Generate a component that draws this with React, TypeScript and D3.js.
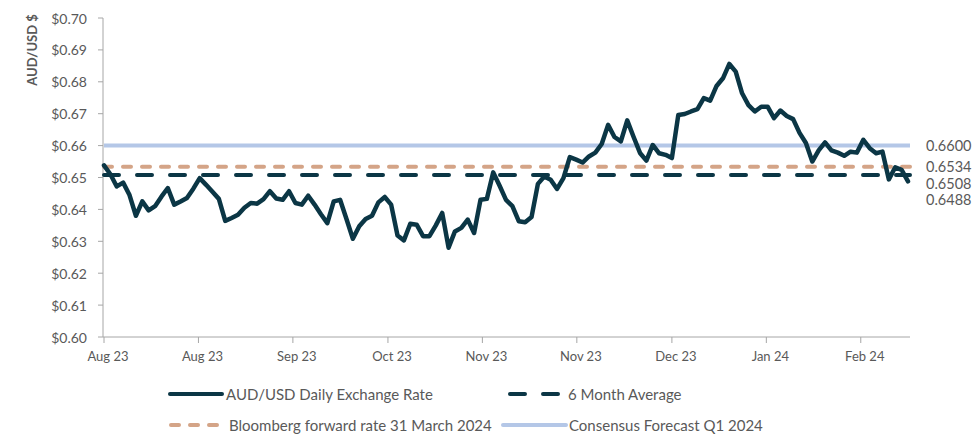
import React from "react";
import * as d3 from "d3";

const rates: number[] = [
  0.6538, 0.651, 0.6472, 0.6484, 0.6445, 0.638, 0.6425, 0.6397, 0.641, 0.644,
  0.6467, 0.6415, 0.6425, 0.6436, 0.6465, 0.6498, 0.6477, 0.6455, 0.6433, 0.6364,
  0.6373, 0.6383, 0.6405, 0.642, 0.6418, 0.6432,
  0.6457, 0.6434, 0.643, 0.6457, 0.642, 0.6415, 0.6443, 0.6415, 0.6385, 0.6357,
  0.6425, 0.643, 0.637, 0.6308, 0.6347, 0.637, 0.638, 0.6422, 0.6439, 0.6415,
  0.6318, 0.6303, 0.6355, 0.6352, 0.6316, 0.6316,
  0.635, 0.6389, 0.628, 0.6331, 0.6342, 0.6368, 0.6326, 0.643, 0.6433, 0.6516,
  0.6474, 0.643, 0.641, 0.6363, 0.636, 0.6376, 0.648, 0.6503, 0.6493, 0.6464,
  0.6498, 0.6564, 0.6556, 0.6547, 0.6566, 0.6578,
  0.6605, 0.6665, 0.6627, 0.6613, 0.6679, 0.6627, 0.6577, 0.6553, 0.6602, 0.6576,
  0.6571, 0.6561, 0.6696, 0.6699, 0.6707, 0.6714, 0.6749, 0.6741, 0.6787, 0.6811,
  0.6856, 0.6832, 0.6764, 0.6727, 0.6707, 0.6722,
  0.6722, 0.6686, 0.671, 0.6693, 0.6683, 0.664, 0.6608, 0.655, 0.6585, 0.661,
  0.6585, 0.6578, 0.6568, 0.6581, 0.6578, 0.6618, 0.6592, 0.6576, 0.6581, 0.6494,
  0.6532, 0.6524, 0.6488,
];

const sixMonthAverage = 0.6508;
const bloombergForward = 0.6534;
const consensusForecast = 0.66;
const latestRate = 0.6488;

const xTickIndex: number[] = [0, 14.8, 29.6, 44.5, 59.3, 74.1, 89, 103.8, 118.6];
const xTickLabels: string[] = [
  "Aug 23", "Aug 23", "Sep 23", "Oct 23", "Nov 23", "Nov 23", "Dec 23", "Jan 24", "Feb 24",
];
const yTicks: number[] = [0.6, 0.61, 0.62, 0.63, 0.64, 0.65, 0.66, 0.67, 0.68, 0.69, 0.7];

const DARK = "#0B3645";
const TAN = "#D4A487";
const BLUE = "#B4C7E7";
const AXIS = "#A6A6A6";
const TEXT = "#595959";
const FONT = "Lato, 'Open Sans', sans-serif";

export default function App() {
  const W = 976;
  const H = 437;
  const left = 104;
  const right = 910;
  const top = 18;
  const bottom = 337;

  const x = d3.scaleLinear().domain([0, rates.length - 1]).range([left, 908]);
  const y = d3.scaleLinear().domain([0.6, 0.7]).range([bottom, top]);

  const line = d3
    .line<number>()
    .x((_, i) => x(i))
    .y((d) => y(d))
    .curve(d3.curveLinear);

  const refLines = [
    { v: consensusForecast, color: BLUE, dash: undefined as string | undefined, cap: "butt" },
    { v: bloombergForward, color: TAN, dash: "8 11", cap: "round" },
    { v: sixMonthAverage, color: DARK, dash: "15 18", cap: "round" },
  ];

  const rightLabels = [consensusForecast, bloombergForward, sixMonthAverage, latestRate];
  const labelYs: number[] = [];
  rightLabels.forEach((v, i) => {
    const yy = y(v);
    labelYs.push(i === 0 ? yy : Math.max(yy, labelYs[i - 1] + 16.5));
  });

  return (
    <svg
      width={W}
      height={H}
      style={{ position: "absolute", left: 0, top: 0, background: "#fff" }}
      fontFamily={FONT}
    >
      <rect x={0} y={0} width={W} height={H} fill="#fff" />
      {/* y axis */}
      <line x1={left - 1} x2={left - 1} y1={top} y2={bottom} stroke={AXIS} strokeWidth={1} />
      {yTicks.map((t) => (
        <g key={t}>
          <line x1={left - 6} x2={left - 1} y1={y(t)} y2={y(t)} stroke={AXIS} />
          <text
            x={87}
            y={y(t)}
            textAnchor="end"
            dominantBaseline="central"
            fontSize={14}
            fill={TEXT}
          >
            {d3.format("$.2f")(t)}
          </text>
        </g>
      ))}
      <text
        transform={`translate(32,${50}) rotate(-90)`}
        textAnchor="middle"
        dominantBaseline="central"
        fontSize={13}
        fontWeight="bold"
        fill={TEXT}
      >
        AUD/USD $
      </text>
      {/* x axis */}
      <line x1={left - 1} x2={right} y1={bottom} y2={bottom} stroke={AXIS} strokeWidth={1} />
      {xTickIndex.map((t, i) => (
        <g key={i}>
          <line x1={x(t)} x2={x(t)} y1={bottom} y2={bottom + 6} stroke={AXIS} />
          <text
            x={x(t) + 4}
            y={bottom + 24}
            textAnchor="middle"
            fontSize={13}
            fill={TEXT}
          >
            {xTickLabels[i]}
          </text>
        </g>
      ))}
      {/* reference lines */}
      {refLines.map((r, i) => (
        <line
          key={i}
          x1={left}
          x2={right}
          y1={y(r.v)}
          y2={y(r.v)}
          stroke={r.color}
          strokeWidth={4}
          strokeDasharray={r.dash}
          strokeLinecap={r.cap as any}
        />
      ))}
      {/* main series */}
      <path
        d={line(rates) || ""}
        fill="none"
        stroke={DARK}
        strokeWidth={4.5}
        strokeLinejoin="round"
        strokeLinecap="round"
      />
      {/* right labels */}
      {rightLabels.map((v, i) => (
        <text
          key={i}
          x={926}
          y={labelYs[i]}
          dominantBaseline="central"
          fontSize={14.5}
          fill={TEXT}
        >
          {v.toFixed(4)}
        </text>
      ))}
      {/* legend */}
      <g fontSize={15} fill={TEXT}>
        <line x1={170} x2={222} y1={394} y2={394} stroke={DARK} strokeWidth={4} strokeLinecap="round" />
        <text x={226} y={394} dominantBaseline="central">AUD/USD Daily Exchange Rate</text>
        <line x1={510} x2={562} y1={394} y2={394} stroke={DARK} strokeWidth={4} strokeDasharray="15 18" strokeLinecap="round" />
        <text x={568} y={394} dominantBaseline="central">6 Month Average</text>
        <line x1={171} x2={222} y1={425} y2={425} stroke={TAN} strokeWidth={4} strokeDasharray="8 11" strokeLinecap="round" />
        <text x={229} y={425} dominantBaseline="central">Bloomberg forward rate 31 March 2024</text>
        <line x1={503} x2={566} y1={425} y2={425} stroke={BLUE} strokeWidth={4} strokeLinecap="round" />
        <text x={569} y={425} dominantBaseline="central">Consensus Forecast Q1 2024</text>
      </g>
    </svg>
  );
}
